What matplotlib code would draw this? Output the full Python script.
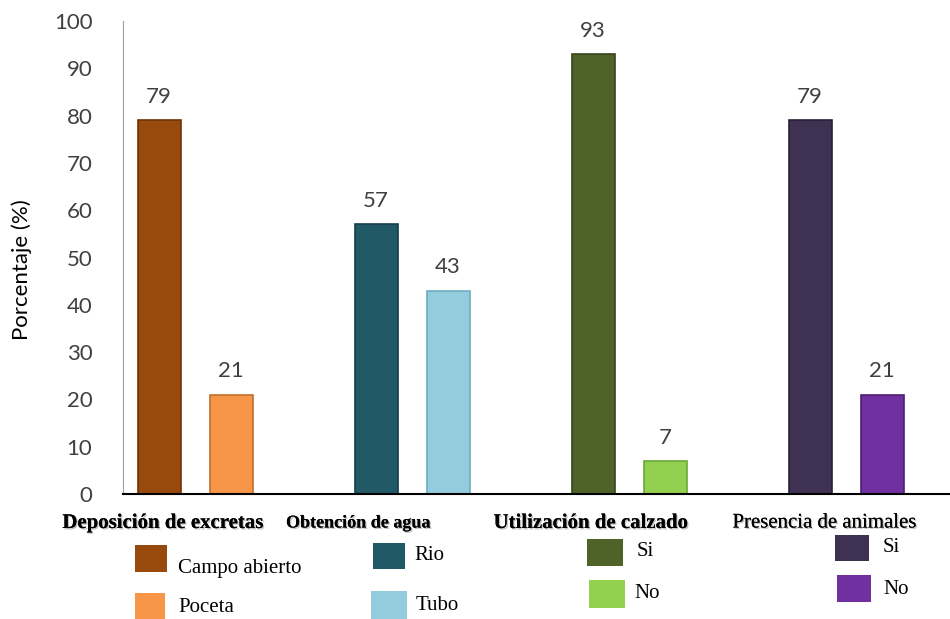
import numpy as np
import matplotlib
matplotlib.use('Agg')
import matplotlib.pyplot as plt
from matplotlib.patches import Rectangle
import matplotlib.patheffects as pe

# ---------------- data ----------------
groups = ['Deposición de excretas', 'Obtención de agua',
          'Utilización de calzado', 'Presencia de animales']
first_vals = [79, 57, 93, 79]
second_vals = [21, 43, 7, 21]
first_names = ['Campo abierto', 'Rio', 'Si', 'Si']
second_names = ['Poceta', 'Tubo', 'No', 'No']
first_cols = ['#984A0C', '#215967', '#4F6228', '#3F3151']
second_cols = ['#F79646', '#93CDDD', '#92D050', '#7030A0']
edge_first = ['#6E3408', '#153E49', '#36441B', '#2A2037']
edge_second = ['#C0702C', '#6AAFC2', '#6AA836', '#4E1F72']

fig = plt.figure(figsize=(9.5, 6.19), dpi=100)
ax = fig.add_axes([123/950, 1-494/619, 1-123/950, (494-21)/619])

x = np.arange(len(groups))
off = 0.166
w = 0.198
b1 = ax.bar(x - off, first_vals, w, color=first_cols, edgecolor=edge_first, linewidth=1.2)
b2 = ax.bar(x + off, second_vals, w, color=second_cols, edgecolor=edge_second, linewidth=1.2)

for bars in (b1, b2):
    for r in bars:
        h = r.get_height()
        ax.text(r.get_x() + r.get_width()/2, h + 2.8, '%d' % h, ha='center', va='bottom',
                fontsize=16, family='Lato', color='#404040')

ax.set_xlim(-0.332, 3.479)
ax.set_ylim(0, 100)
ax.set_yticks(np.arange(0, 101, 10))
ax.set_xticks([])
ax.tick_params(axis='y', length=0, labelsize=16, labelcolor='#404040', pad=22)
for t in ax.get_yticklabels():
    t.set_family('Lato')
for s in ['top', 'right']:
    ax.spines[s].set_visible(False)
ax.spines['left'].set_color('#A0A0A0')
ax.spines['bottom'].set_color('black')
ax.spines['bottom'].set_linewidth(1.5)
ax.set_ylabel('Porcentaje (%)', fontsize=16, family='Lato', color='black')
ax.yaxis.set_label_coords(-0.11, 0.475)

# group labels under the axis
grp_x = [163, 358, 591, 825]
grp_size = [15, 13, 15, 15]
for i, g in enumerate(groups):
    bold = i < 3
    t = fig.text(grp_x[i]/950, 1-523/619, g, ha='center', va='center',
                 fontsize=grp_size[i], family='Liberation Serif',
                 weight='bold' if bold else 'normal', color='black')
    t.set_path_effects([pe.withSimplePatchShadow(offset=(1, -1), shadow_rgbFace='#999999', alpha=0.6),
                        pe.Normal()])

# hand placed legend boxes
leg_sq = [(135, 545, 32, 27), (373, 543, 32, 26), (587, 539, 36, 27), (835, 535, 34, 26)]
leg_sq2 = [(135, 593, 30, 28), (371, 591, 36, 28), (589, 580, 36, 28), (837, 575, 34, 27)]
leg_tx = [(178, 568), (414, 555), (637, 552), (883, 548)]
leg_tx2 = [(178, 608), (416, 606), (634, 594), (883, 590)]
for i in range(len(groups)):
    for sq, tx, name, col in ((leg_sq[i], leg_tx[i], first_names[i], first_cols[i]),
                              (leg_sq2[i], leg_tx2[i], second_names[i], second_cols[i])):
        px, py, pw, ph = sq
        fig.patches.append(Rectangle((px/950, 1-(py+ph)/619), pw/950, ph/619,
                                     transform=fig.transFigure, facecolor=col, edgecolor='none'))
        fig.text(tx[0]/950, 1-tx[1]/619, name, ha='left', va='center',
                 fontsize=15, family='Liberation Serif', color='black')

fig.savefig('out.png', dpi=100)
